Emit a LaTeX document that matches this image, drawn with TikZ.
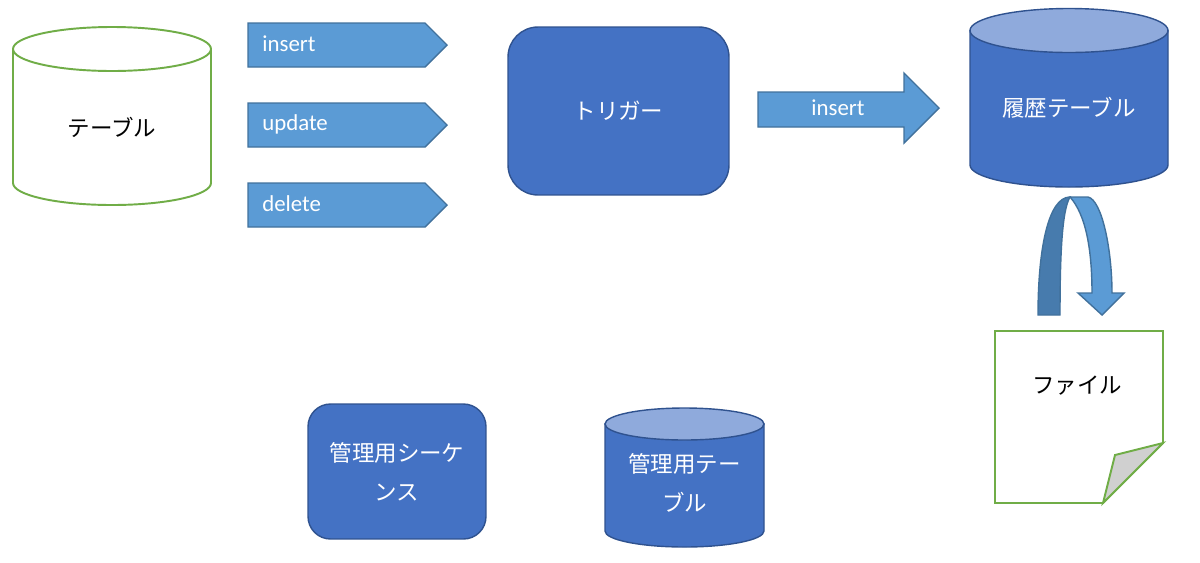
\documentclass[tikz,border=0pt]{standalone}
\usepackage{fontspec}
\setmainfont{Carlito}
\newfontfamily\jp{Noto Sans CJK JP}
\usepackage{xcolor}
\usepackage{tikz}
\usetikzlibrary{positioning}

\definecolor{tblgreen}{HTML}{70AD47}
\definecolor{boxblue}{HTML}{4472C4}
\definecolor{boxline}{HTML}{2F528F}
\definecolor{toplight}{HTML}{8FAADC}
\definecolor{arrowblue}{HTML}{5B9BD5}
\definecolor{arrowline}{HTML}{41719C}
\definecolor{arrowdark}{HTML}{477BAD}
\definecolor{foldgray}{HTML}{D0D0D0}

\begin{document}
\begin{tikzpicture}[x=0.02cm,y=-0.02cm,
	greenline/.style={draw=tblgreen,line width=1.1pt,fill=white},
	dbbody/.style={draw=boxline,line width=0.8pt,fill=boxblue},
	dbtop/.style={draw=boxline,line width=0.8pt,fill=toplight},
	tag/.style={draw=arrowline,line width=0.8pt,fill=arrowblue},
	procbox/.style={draw=boxline,line width=0.8pt,fill=boxblue,inner sep=0pt},
	jplabel/.style={font=\jp\fontsize{12.8}{22}\selectfont,align=center},
	enlabel/.style={font=\fontsize{13}{15}\selectfont,text=white,inner sep=0pt}]
	\useasboundingbox (0,0) rectangle (1200,562);
	% table cylinder
	\draw[greenline] (13,49) -- (13,183) arc (180:0:99 and 22) -- (211,49) -- cycle;
	\draw[greenline] (112,49) ellipse (99 and 22);
	\node[jplabel] (table) at (112,127) {テーブル};
	% events
	\filldraw[tag] (248,23) -- (425,23) -- (447,45) -- (425,67) -- (248,67) -- cycle;
	\node[enlabel,anchor=west] (ins) at (262,44) {insert};
	\filldraw[tag] (248,103) -- (425,103) -- (447,125) -- (425,147) -- (248,147) -- cycle;
	\node[enlabel,anchor=west] (upd) at (262,124) {update};
	\filldraw[tag] (248,183) -- (425,183) -- (447,205) -- (425,227) -- (248,227) -- cycle;
	\node[enlabel,anchor=west] (del) at (262,204) {delete};
	% trigger
	\node[procbox,rounded corners=0.6cm,minimum width=4.42cm,minimum height=3.36cm,jplabel,text=white] (trigger) at (618.5,111) {トリガー};
	% insert arrow
	\filldraw[tag] (758,92) -- (904,92) -- (904,73) -- (939,108) -- (904,143) -- (904,127) -- (758,127) -- cycle;
	\node[enlabel] (hins) at (838,108) {insert};
	% history table
	\filldraw[dbbody] (970,30.5) -- (970,165) arc (180:0:99 and 22) -- (1168,30.5) -- cycle;
	\filldraw[dbtop] (1069,30.5) ellipse (99 and 22);
	\node[jplabel,text=white] (history) at (1069,108) {履歴テーブル};
	% u-turn arrow
	\filldraw[draw=arrowline,line width=0.8pt,fill=arrowdark] (1038,315) .. controls (1038,250) and (1048,197) .. (1070,197)
		.. controls (1062,210) and (1060,255) .. (1060,315) -- cycle;
	\filldraw[tag] (1070,197) -- (1088,197) .. controls (1102,200) and (1112,250) .. (1112,293) -- (1124,293) -- (1102,315)
		-- (1078,293) -- (1092,293) .. controls (1092,250) and (1086,215) .. (1070,197) -- cycle;
	% file
	\filldraw[greenline] (995,331) -- (1163,331) -- (1163,443) -- (1103,503) -- (995,503) -- cycle;
	\filldraw[greenline,fill=foldgray] (1163,443) -- (1115,455) -- (1103,503) -- cycle;
	\node[jplabel] (file) at (1077,386) {ファイル};
	% sequence
	\node[procbox,rounded corners=0.45cm,minimum width=3.56cm,minimum height=2.7cm,jplabel,text=white] (seq) at (397,471.5) {管理用シーケ\\ンス};
	% admin table
	\filldraw[dbbody] (605,424) -- (605,531) arc (180:0:79.5 and 16) -- (764,424) -- cycle;
	\filldraw[dbtop] (684.5,424) ellipse (79.5 and 16);
	\node[jplabel,text=white] (admin) at (684.5,483) {管理用テー\\ブル};
\end{tikzpicture}
\end{document}
